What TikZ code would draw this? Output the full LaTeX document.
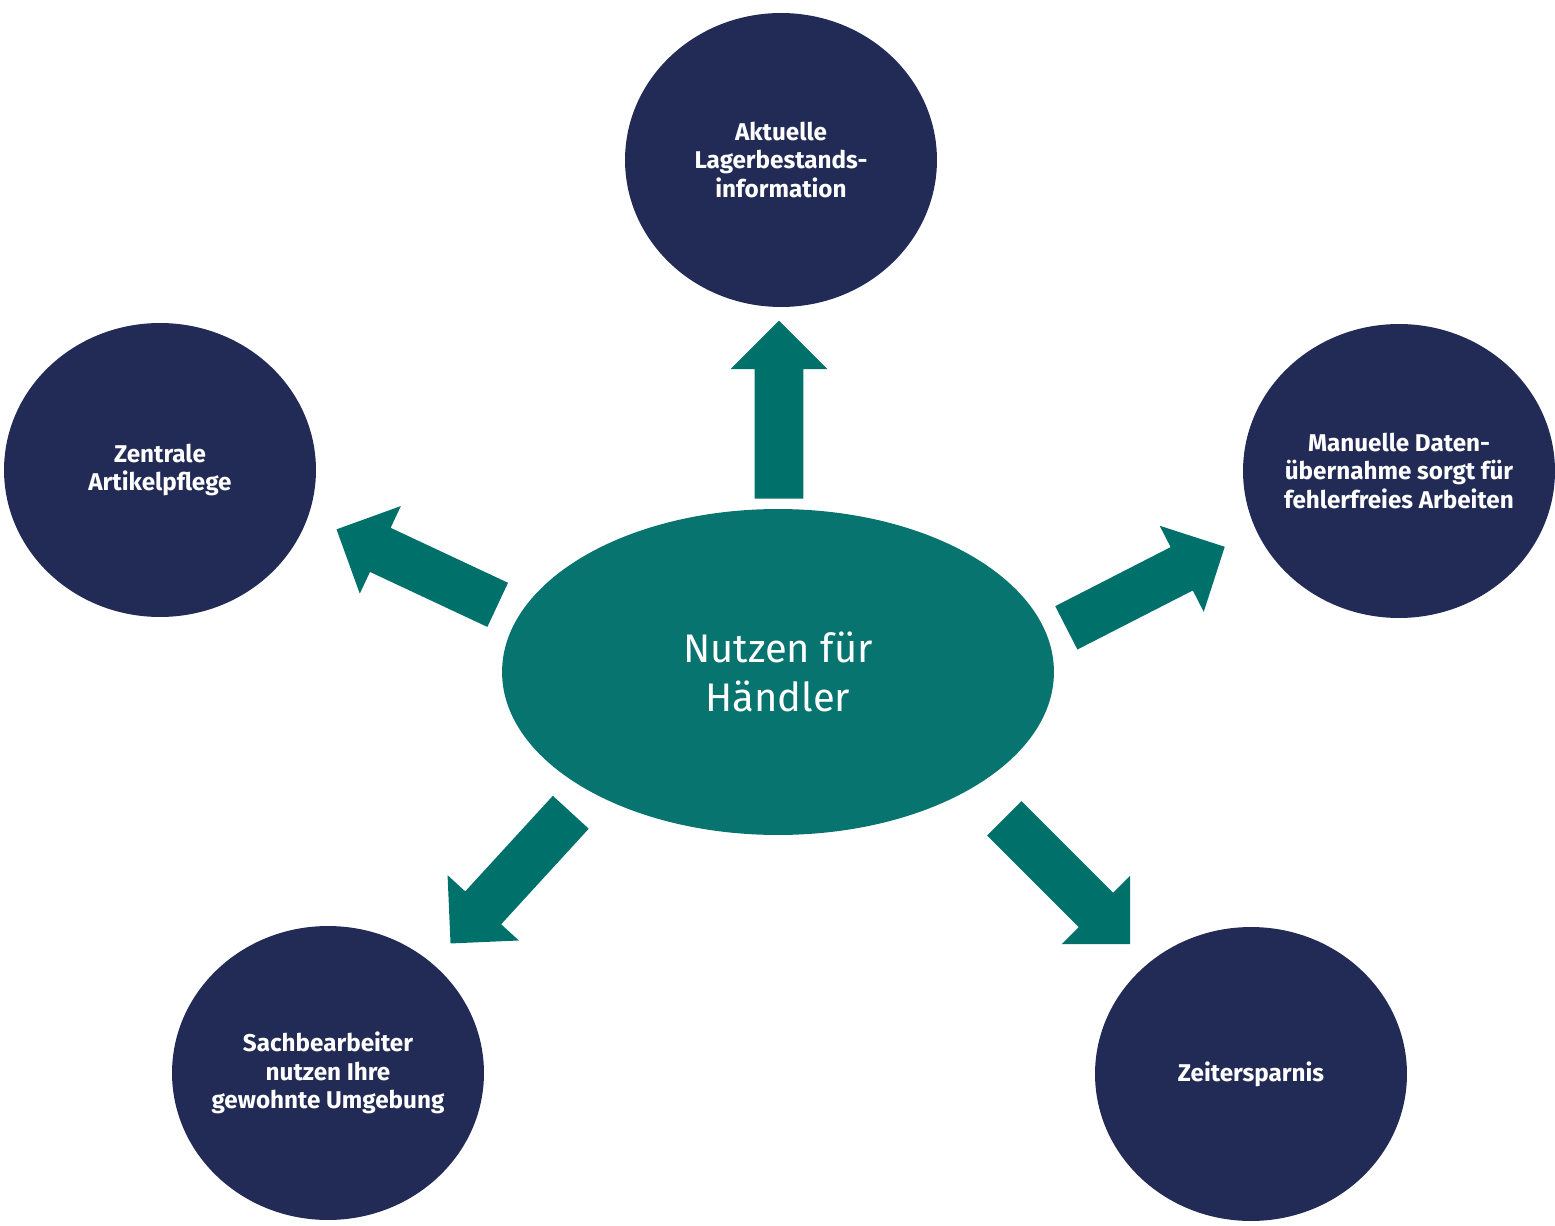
\documentclass[tikz,border=0pt]{standalone}
\usepackage{fontspec}
\setmainfont{Fira Sans}
\usepackage{tikz}
\usetikzlibrary{shapes.geometric}
\usetikzlibrary{shapes.arrows}

\definecolor{navy}{HTML}{222B55}
\definecolor{hubteal}{HTML}{077470}
\definecolor{arrowteal}{HTML}{00706A}

\begin{document}
\begin{tikzpicture}[x=0.02cm, y=-0.02cm]

% Define styles for different elements
\tikzstyle{benefit} = [ellipse, minimum width=6.24cm, minimum height=5.88cm, inner sep=-1.5cm, fill=navy, text=white, align=center, font=\fontsize{13.8}{16.3}\selectfont\bfseries]
\tikzstyle{hub} = [ellipse, minimum width=11.04cm, minimum height=6.52cm, inner sep=0pt, fill=hubteal, text=white, align=center, font=\fontsize{22.7}{28}\selectfont]
\tikzstyle{bigarrow} = [single arrow, fill=arrowteal, minimum width=1.92cm, single arrow head extend=0.48cm, minimum height=3.56cm, inner xsep=0pt, inner ysep=0.48cm, anchor=tail]

\useasboundingbox (0,0) rectangle (1555,1226);

% Draw the nodes
\node (hub) [hub] at (778,672) {Nutzen für\\Händler};
\node (lager) [benefit] at (781,160) {Aktuelle\\Lagerbestands-\\information};
\node (artikel) [benefit] at (160,470) {Zentrale\\Artikelpflege};
\node (daten) [benefit] at (1399,471) {Manuelle Daten-\\übernahme sorgt für\\fehlerfreies Arbeiten};
\node (umgebung) [benefit] at (328,1073) {Sachbearbeiter\\nutzen Ihre\\gewohnte Umgebung};
\node (zeit) [benefit] at (1251,1074) {Zeitersparnis};

% Draw the arrows
\node (toLager) [bigarrow, rotate=90] at (779,499) {};
\node (toArtikel) [bigarrow, rotate=154.9] at (498,605) {};
\node (toDaten) [bigarrow, rotate=27.1] at (1066,628) {};
\node (toUmgebung) [bigarrow, rotate=227.5] at (571,812) {};
\node (toZeit) [bigarrow, rotate=-45] at (1004,818) {};
\end{tikzpicture}
\end{document}
